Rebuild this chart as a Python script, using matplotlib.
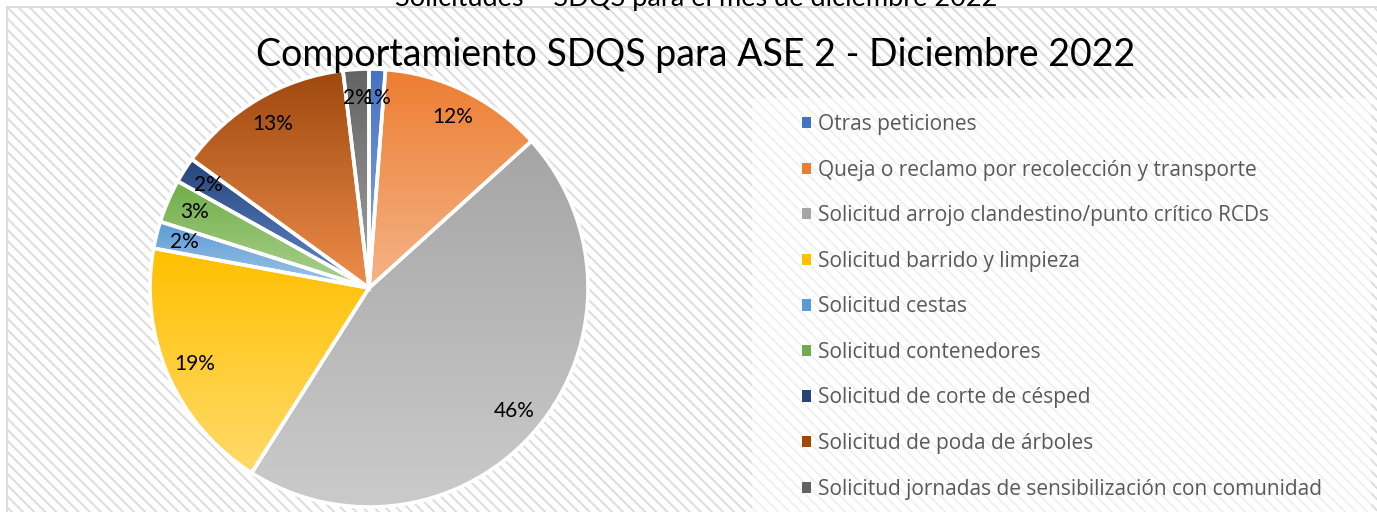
"""
Pie chart: Comportamiento SDQS para ASE 2 - Diciembre 2022
"""
import colorsys

import matplotlib.pyplot as plt
import numpy as np
from matplotlib.colors import to_rgb
from matplotlib.patches import Patch, Rectangle

OUTPUT_FILE = 'out.png'

# Data (percentages)
categories = [
    'Otras peticiones',
    'Queja o reclamo por recolección y transporte',
    'Solicitud arrojo clandestino/punto crítico RCDs',
    'Solicitud barrido y limpieza',
    'Solicitud cestas',
    'Solicitud contenedores',
    'Solicitud de corte de césped',
    'Solicitud de poda de árboles',
    'Solicitud jornadas de sensibilización con comunidad',
]
shares = [1.2, 12.1, 45.7, 18.9, 2.0, 3.2, 1.9, 13.1, 1.9]

colours = ['#4472C4', '#ED7D31', '#A5A5A5', '#FFC000', '#5B9BD5',
           '#70AD47', '#264478', '#9E480E', '#636363']

W, H = 1377, 512


def tint(colour, t):
    # lighten in HLS space, like the office "shade to tint" gradient
    h, l, s = colorsys.rgb_to_hls(*to_rgb(colour))
    return colorsys.hls_to_rgb(h, l + (1 - l) * t, s)


def main():
    plt.rcParams['hatch.linewidth'] = 1.4
    fig = plt.figure(figsize=(W / 100, H / 100), dpi=100)

    # hatched chart area
    bg = Rectangle((7 / W, -0.1), 1.2, (H - 7) / H + 0.1, transform=fig.transFigure,
                   facecolor='white', edgecolor='#DCDCDC', hatch='\\\\\\', lw=1.5, zorder=-2)
    fig.add_artist(bg)
    # lighter legend box
    lg_box = Rectangle((752 / W, 0), (1371 - 752) / W, (H - 98) / H, transform=fig.transFigure,
                       facecolor='white', alpha=0.6, lw=0, zorder=-1)
    fig.add_artist(lg_box)

    # clipped title of the page above the chart
    fig.text(696 / W, (H - 6) / H, 'Solicitudes – SDQS para el mes de diciembre 2022',
             ha='center', va='baseline', fontsize=19.5, family='Lato', color='black')

    fig.text(696 / W, (H - 66) / H, 'Comportamiento SDQS para ASE 2 - Diciembre 2022',
             ha='center', va='baseline', fontsize=27, family='Lato', color='black')

    # pie
    cx, cy, r = 369, H - 288, 219
    ax = fig.add_axes([(cx - r) / W, (cy - r) / H, 2 * r / W, 2 * r / H])
    ax.patch.set_visible(False)
    wedges, texts, autotexts = ax.pie(
        shares, colors=colours, startangle=90, counterclock=False,
        autopct='%1.0f%%', pctdistance=0.87,
        wedgeprops=dict(edgecolor='white', linewidth=2.6),
        textprops=dict(fontsize=15, family='Lato', color='black'),
    )

    # vertical gradient in each slice
    for w, c in zip(wedges, colours):
        ext = w.get_path().get_extents()
        top = np.array(to_rgb(c))
        bottom = np.array(tint(c, 0.42))
        k = np.linspace(0, 1, 256).reshape(-1, 1, 1)
        img = top * (1 - k) + bottom * k
        im = ax.imshow(img, extent=[ext.x0, ext.x1, ext.y0, ext.y1], origin='upper',
                       aspect='auto', interpolation='bilinear', zorder=0.9)
        im.set_clip_path(w)
        w.set_facecolor('none')
        w.set_zorder(1)

    ax.set_xlim(-1, 1)
    ax.set_ylim(-1, 1)
    ax.set_aspect('auto')
    ax.axis('off')

    # legend
    handles = [Patch(facecolor=c, edgecolor='none') for c in colours]
    fig.legend(handles, categories, loc='upper left',
               bbox_to_anchor=(802 / W, (H - 114) / H), frameon=False,
               prop=dict(family='Open Sans', size=15), labelcolor='#595959',
               handlelength=0.45, handleheight=0.45, handletextpad=0.34,
               labelspacing=1.18, borderpad=0, borderaxespad=0)

    fig.savefig(OUTPUT_FILE, dpi=100)


if __name__ == "__main__":
    main()
